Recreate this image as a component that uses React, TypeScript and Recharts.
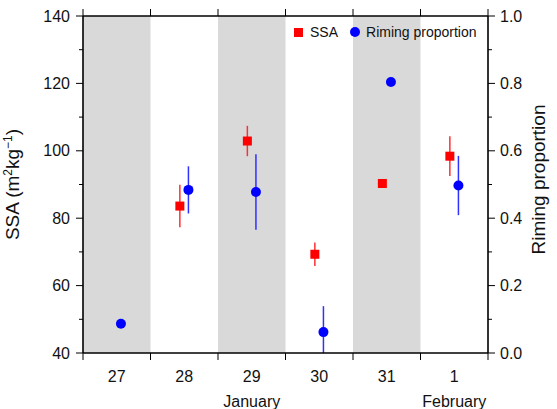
import React from 'react';
import { ScatterChart, Scatter, XAxis, YAxis, ErrorBar, ReferenceArea, Legend } from 'recharts';

// days shown on the x axis (one category per day)
const days = ['27', '28', '29', '30', '31', '1'];
const monthLabels = ['', '', 'January', '', '', 'February'];
const shadedDays = [0, 2, 4];

// SSA (m2 kg-1) with error, no measurement on the 27th
const ssa = [null, 83.6, 102.9, 69.3, 90.3, 98.4];
const ssaErr = [null, 6.3, 4.5, 3.5, 0, 5.9];

// riming proportion with error (the 30th is clipped at 0 -> [low, high])
const riming = [0.087, 0.484, 0.478, 0.062, 0.804, 0.497];
const rimingErr: (number | number[])[] = [0, 0.07, 0.112, [0.062, 0.077], 0, 0.088];

const ssaTicks = [40, 50, 60, 70, 80, 90, 100, 110, 120, 130, 140];
const rimingTicks = [0, 0.1, 0.2, 0.3, 0.4, 0.5, 0.6, 0.7, 0.8, 0.9, 1.0];
const dayEdges = [0, 1, 2, 3, 4, 5, 6];

const W = 557;
const H = 409;
const LEFT_W = 83;
const RIGHT_W = 69;
const HALF_DAY = (W - LEFT_W - RIGHT_W) / days.length / 2;
const SSA_SHIFT = -0.065;
const RIM_SHIFT = 0.062;

const FONT = '"Liberation Sans", Arial, Helvetica, sans-serif';
const TICK_FS = 16;

const ssaData = days
    .map((d, i) => ({ day: d, x: i + 0.5 + SSA_SHIFT, y: ssa[i], err: ssaErr[i] }))
    .filter((p) => p.y != null);

const rimingData = days.map((d, i) => ({ day: d, x: i + 0.5 + RIM_SHIFT, y: riming[i], err: rimingErr[i] }));

const DayTick = (props: any) => {
    const { x, y, payload, index } = props;
    const i = payload?.value ?? index;
    return (
        <g>
            <line x1={x} x2={x} y1={y} y2={y + 7} stroke="#000" strokeWidth={1} />
            {i < days.length && (
                <text x={x + HALF_DAY} y={y + 29} textAnchor="middle" fontSize={TICK_FS} fill="#111">
                    {days[i]}
                </text>
            )}
            {i < days.length && monthLabels[i] && (
                <text x={x + HALF_DAY} y={y + 54} textAnchor="middle" fontSize={TICK_FS} fill="#111">
                    {monthLabels[i]}
                </text>
            )}
        </g>
    );
};

const TopTick = (props: any) => {
    const { x, y } = props;
    return <line x1={x} x2={x} y1={y} y2={y - 7} stroke="#000" strokeWidth={1} />;
};

const LeftTick = (props: any) => {
    const { x, y, payload } = props;
    const major = payload.value % 20 === 0;
    return (
        <g>
            <line x1={x} x2={x - (major ? 7 : 4)} y1={y} y2={y} stroke="#000" strokeWidth={1} />
            {major && (
                <text x={x - 13} y={y + 5.5} textAnchor="end" fontSize={TICK_FS} fill="#111">
                    {payload.value}
                </text>
            )}
        </g>
    );
};

const RightTick = (props: any) => {
    const { x, y, payload } = props;
    const major = Math.round(payload.value * 10) % 2 === 0;
    return (
        <g>
            <line x1={x} x2={x + (major ? 7 : 4)} y1={y} y2={y} stroke="#000" strokeWidth={1} />
            {major && (
                <text x={x + 12} y={y + 5.5} textAnchor="start" fontSize={TICK_FS} fill="#111">
                    {payload.value.toFixed(1)}
                </text>
            )}
        </g>
    );
};

const SsaLabel = (props: any) => {
    const vb = props.viewBox || { x: 0, y: 16, width: LEFT_W, height: 337 };
    const cx = vb.x + 19;
    const cy = vb.y + vb.height / 2;
    return (
        <text x={cx} y={cy} transform={`rotate(-90 ${cx} ${cy})`} textAnchor="middle" fontSize={19} fill="#111">
            SSA (m
            <tspan dy={-7} fontSize={12}>2</tspan>
            <tspan dy={7}>kg</tspan>
            <tspan dy={-7} fontSize={12}>−1</tspan>
            <tspan dy={7}>)</tspan>
        </text>
    );
};

const RimingLabel = (props: any) => {
    const vb = props.viewBox || { x: W - RIGHT_W, y: 16, width: RIGHT_W, height: 337 };
    const cx = vb.x + 57;
    const cy = vb.y + vb.height / 2 - 5;
    return (
        <text x={cx} y={cy} transform={`rotate(-90 ${cx} ${cy})`} textAnchor="middle" fontSize={19} fill="#111">
            Riming proportion
        </text>
    );
};

const SquareDot = (props: any) => {
    const { cx, cy } = props;
    if (cx == null || cy == null) return null;
    return <rect x={cx - 4.5} y={cy - 4.5} width={9} height={9} fill="#ff0000" />;
};

const RoundDot = (props: any) => {
    const { cx, cy } = props;
    if (cx == null || cy == null) return null;
    return <circle cx={cx} cy={cy} r={5} fill="#0000ff" />;
};

const LegendBox = () => (
    <div style={{ display: 'flex', alignItems: 'center', fontSize: 14, lineHeight: '16px', color: '#111', fontFamily: FONT, whiteSpace: 'nowrap' }}>
        <span style={{ width: 9, height: 9, background: '#ff0000', display: 'inline-block', marginRight: 7 }} />
        <span style={{ marginRight: 12 }}>SSA</span>
        <span style={{ width: 10, height: 10, borderRadius: 5, background: '#0000ff', display: 'inline-block', marginRight: 6 }} />
        <span>Riming proportion</span>
    </div>
);

export default function App() {
    return (
        <div style={{ position: 'absolute', left: 0, top: 0, width: W, height: H, fontFamily: FONT }}>
            <ScatterChart width={W} height={H} margin={{ top: 10, right: 0, bottom: 0, left: 0 }} style={{ fontFamily: FONT }}>
                <XAxis
                    xAxisId="bottom"
                    type="number"
                    dataKey="x"
                    domain={[0, 6]}
                    ticks={dayEdges}
                    interval={0}
                    orientation="bottom"
                    height={56}
                    tickLine={false}
                    tickSize={0}
                    tickMargin={0}
                    axisLine={{ stroke: '#000', strokeWidth: 1.6 }}
                    tick={<DayTick />}
                    allowDataOverflow
                />
                <XAxis
                    xAxisId="top"
                    type="number"
                    dataKey="x"
                    domain={[0, 6]}
                    ticks={dayEdges}
                    interval={0}
                    orientation="top"
                    height={6}
                    tickLine={false}
                    tickSize={0}
                    tickMargin={0}
                    tick={<TopTick />}
                    axisLine={{ stroke: '#000', strokeWidth: 1.6 }}
                    allowDataOverflow
                />
                <YAxis
                    yAxisId="left"
                    type="number"
                    dataKey="y"
                    domain={[40, 140]}
                    ticks={ssaTicks}
                    interval={0}
                    width={LEFT_W}
                    tickLine={false}
                    tickSize={0}
                    tickMargin={0}
                    axisLine={{ stroke: '#000', strokeWidth: 1.6 }}
                    tick={<LeftTick />}
                    label={<SsaLabel />}
                    allowDataOverflow
                />
                <YAxis
                    yAxisId="right"
                    orientation="right"
                    type="number"
                    dataKey="y"
                    domain={[0, 1]}
                    ticks={rimingTicks}
                    interval={0}
                    width={RIGHT_W}
                    tickLine={false}
                    tickSize={0}
                    tickMargin={0}
                    axisLine={{ stroke: '#000', strokeWidth: 1.6 }}
                    tick={<RightTick />}
                    label={<RimingLabel />}
                    allowDataOverflow
                />
                {shadedDays.map((d) => (
                    <ReferenceArea
                        key={d}
                        xAxisId="bottom"
                        yAxisId="left"
                        x1={d}
                        x2={d + 1}
                        fill="#d9d9d9"
                        fillOpacity={1}
                        stroke="none"
                    />
                ))}
                <Legend
                    layout="vertical"
                    verticalAlign="middle"
                    align="center"
                    wrapperStyle={{ position: 'absolute', left: 294, top: 24, width: 'auto', height: 'auto' }}
                    content={() => <LegendBox />}
                />
                <Scatter
                    name="SSA"
                    xAxisId="bottom"
                    yAxisId="left"
                    data={ssaData}
                    dataKey="y"
                    shape={<SquareDot />}
                    isAnimationActive={false}
                >
                    <ErrorBar dataKey="err" direction="y" width={0} stroke="#ff3030" strokeWidth={1.5} />
                </Scatter>
                <Scatter
                    name="Riming proportion"
                    xAxisId="top"
                    yAxisId="right"
                    data={rimingData}
                    dataKey="y"
                    shape={<RoundDot />}
                    isAnimationActive={false}
                >
                    <ErrorBar dataKey="err" direction="y" width={0} stroke="#3030ff" strokeWidth={1.5} />
                </Scatter>
            </ScatterChart>
        </div>
    );
}
